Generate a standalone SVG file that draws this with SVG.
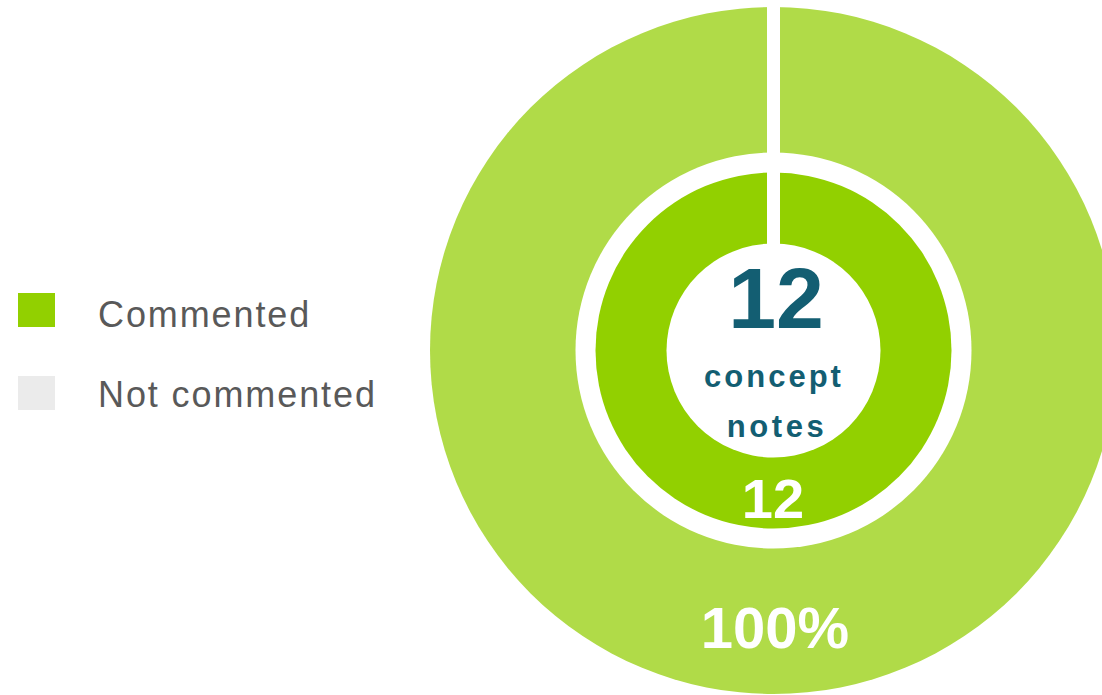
<svg xmlns="http://www.w3.org/2000/svg" width="1102" height="695" viewBox="0 0 1102 695">
<style>
.leg{font-family:"Liberation Sans",Arial,sans-serif;font-size:36px;fill:#595959;letter-spacing:1.9px}
.b{font-family:"Liberation Sans",Arial,sans-serif;font-weight:bold;text-anchor:middle}
</style>
<rect width="1102" height="695" fill="#ffffff"/>
<g id="outer-ring">
<circle cx="773.5" cy="350.5" r="343.5" fill="#b0db48"/>
<circle cx="773.5" cy="350.5" r="198" fill="#ffffff"/>
</g>
<g id="inner-ring">
<circle cx="773.5" cy="350.5" r="178" fill="#92d000"/>
<circle cx="773.5" cy="350.5" r="107" fill="#ffffff"/>
</g>
<g id="divider">
<rect x="767" y="0" width="13" height="250" fill="#ffffff"/>
</g>
<g id="center-label">
<text class="b" x="776" y="328" font-size="86" fill="#135e72">12</text>
<text class="b" x="774" y="387" font-size="31" fill="#135e72" letter-spacing="3">concept</text>
<text class="b" x="777" y="437" font-size="31" fill="#135e72" letter-spacing="3.6">notes</text>
</g>
<g id="inner-value">
<text class="b" x="773" y="518" font-size="56" fill="#ffffff">12</text>
</g>
<g id="outer-value">
<text class="b" x="775" y="648" font-size="58" fill="#ffffff">100%</text>
</g>
<g id="legend">
<rect x="18" y="293" width="37" height="34" fill="#92d000"/>
<text class="leg" x="98" y="327">Commented</text>
<rect x="18" y="376" width="37" height="34" fill="#ebebeb"/>
<text class="leg" x="98" y="407">Not commented</text>
</g>
</svg>
